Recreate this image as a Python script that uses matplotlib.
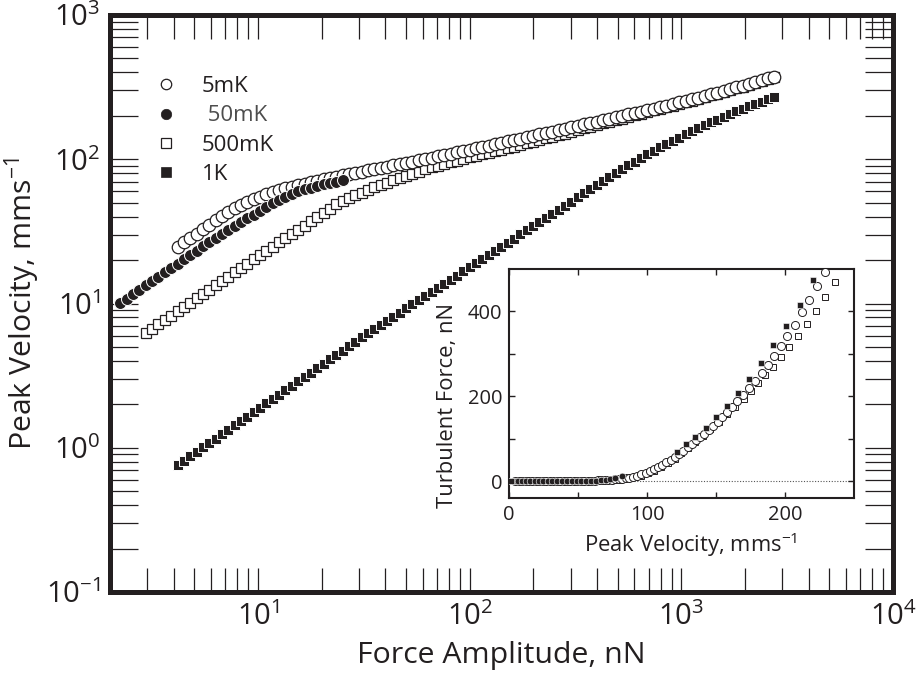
import matplotlib
matplotlib.use('Agg')
import matplotlib.pyplot as plt
from matplotlib.lines import Line2D
from matplotlib.ticker import LogLocator, NullFormatter

plt.rcParams['font.family'] = ['Open Sans', 'DejaVu Sans']
plt.rcParams['mathtext.fontset'] = 'custom'
plt.rcParams['mathtext.rm'] = 'Open Sans'
plt.rcParams['mathtext.it'] = 'Open Sans:italic'
plt.rcParams['mathtext.default'] = 'regular'

# ---------------- main panel data (force sweep, nN) ----------------
force_nN = [2.239, 2.399, 2.570, 2.754, 2.951, 3.162, 3.388, 3.631, 3.890, 4.169,
            4.467, 4.786, 5.129, 5.495, 5.888, 6.310, 6.761, 7.244, 7.762, 8.318,
            8.913, 9.550, 10.23, 10.96, 11.75, 12.59, 13.49, 14.45, 15.49, 16.60,
            17.78, 19.05, 20.42, 21.88, 23.44, 25.12, 26.92, 28.84, 30.90, 33.11,
            35.48, 38.02, 40.74, 43.65, 46.77, 50.12, 53.70, 57.54, 61.66, 66.07,
            70.79, 75.86, 81.28, 87.10, 93.33, 100.0, 107.2, 114.8, 123.0, 131.8,
            141.3, 151.4, 162.2, 173.8, 186.2, 199.5, 213.8, 229.1, 245.5, 263.0,
            281.8, 302.0, 323.6, 346.7, 371.5, 398.1, 426.6, 457.1, 489.8, 524.8,
            562.3, 602.6, 645.7, 691.8, 741.3, 794.3, 851.1, 912.0, 977.2, 1047,
            1122, 1202, 1288, 1380, 1479, 1585, 1698, 1820, 1950, 2089,
            2239, 2399, 2570, 2754]

v_50mK = [10.05, 10.79, 11.56, 12.42, 13.34, 14.29, 15.31, 16.44, 17.62, 18.88,
          20.28, 21.73, 23.23, 24.89, 26.61, 28.51, 30.41, 32.43, 34.44, 36.64,
          38.90, 41.30, 43.95, 46.67, 49.55, 52.48, 55.08, 57.54, 59.84, 61.80,
          63.68, 65.61, 67.30, 68.71, 69.98, 71.29]

v_500mK = [6.252, 6.699, 7.178, 7.691, 8.241, 8.831, 9.462, 10.14, 10.86, 11.64,
           12.47, 13.37, 14.32, 15.35, 16.44, 17.62, 18.88, 20.23, 21.68, 23.17,
           24.77, 26.48, 28.31, 30.27, 32.43, 34.67, 37.07, 39.63, 42.36, 45.39,
           48.64, 51.52, 54.08, 56.36, 58.75, 61.24, 63.83, 66.37, 68.87, 71.61,
           74.13, 76.74, 79.43, 82.22, 85.11, 87.70, 90.16, 92.68, 95.28, 97.95,
           100.5, 103.0, 105.7, 108.4, 110.9, 113.8, 116.4, 119.4, 122.5, 125.6,
           128.8, 132.1, 135.5, 139.3, 142.9, 146.6, 150.7, 154.9, 159.2, 163.7,
           168.3, 173.0, 177.4, 182.0, 186.6, 191.4, 196.8, 201.8, 207.0, 212.3,
           217.8, 223.9, 229.6, 235.5, 241.6, 248.3, 255.3, 262.4, 269.2, 276.7,
           284.4, 292.4, 301.3, 309.7, 319.1, 328.1, 338.1, 347.5, 358.1, 368.9]

v_5mK = [24.7, 26.5, 28.4, 30.5, 32.8, 35.2, 37.8, 40.3, 42.9, 45.6,
         48.0, 50.3, 52.7, 55.0, 57.0, 59.0, 61.2, 63.0, 64.6, 66.4,
         67.9, 69.5, 71.1, 72.6, 74.1, 75.7, 77.3, 78.9, 80.4, 82.0,
         83.8, 85.5, 87.1, 88.9, 90.8, 92.5, 94.4, 96.4, 98.4, 100.5,
         102.6, 104.7, 106.9, 109.1, 111.4, 114.0, 116.4, 119.1, 121.6, 124.4,
         127.1, 130.0, 133.0, 135.8, 139.0, 141.9, 145.2, 148.6, 152.1, 155.6,
         159.1, 162.8, 166.4, 170.2, 174.2, 178.2, 182.4, 186.6, 190.9, 195.4,
         200.0, 204.4, 208.9, 214.0, 219.3, 224.7, 230.1, 235.8, 241.6, 247.5,
         254.1, 260.6, 267.3, 274.8, 282.1, 289.7, 297.8, 306.2, 315.1, 324.3,
         333.4, 343.1, 353.1, 363.1, 373.2]

v_1K = [0.759, 0.814, 0.873, 0.937, 1.005, 1.078, 1.156, 1.240, 1.330, 1.427,
        1.531, 1.643, 1.762, 1.891, 2.028, 2.176, 2.333, 2.503, 2.685, 2.881,
        3.090, 3.315, 3.556, 3.815, 4.093, 4.391, 4.710, 5.053, 5.420, 5.814,
        6.237, 6.662, 7.112, 7.595, 8.110, 8.661, 9.247, 9.874, 10.54, 11.26,
        12.02, 12.84, 13.71, 14.64, 15.63, 16.69, 17.82, 19.03, 20.32, 21.71,
        23.17, 24.75, 26.42, 28.22, 30.13, 32.17, 34.36, 36.69, 39.17, 41.83,
        44.67, 47.70, 50.93, 54.39, 58.08, 62.01, 66.22, 70.69, 75.34, 80.25,
        85.36, 90.69, 96.23, 102.0, 108.0, 114.3, 120.8, 127.5, 134.4, 141.5,
        148.9, 156.4, 164.2, 172.2, 180.3, 188.6, 197.1, 205.8, 214.5, 223.4,
        232.4, 241.5, 250.7, 260.0, 269.2]

force_50mK = force_nN[0:0 + len(v_50mK)]
force_500mK = force_nN[4:4 + len(v_500mK)]
force_5mK = force_nN[9:9 + len(v_5mK)]
force_1K = force_nN[9:9 + len(v_1K)]

labels = ['5mK', ' 50mK', '500mK', '1K']

# ---------------- inset data: turbulent force vs peak velocity ----------------
in_v_5mK = [4.5, 7, 9.5, 12, 14.5, 17, 19.5, 22, 24.5, 27, 29.5, 32, 34.5, 37, 39.5,
            42, 44.5, 47, 49.5, 52, 54.5, 57,
            59.5, 62, 64.5, 67, 69.5, 72, 74.5, 77, 79.5, 82, 84.5, 87,
            90, 93, 96, 99, 102, 105, 108, 111, 114,
            117.4, 120.5, 123.4, 126.3, 129.4, 132.6, 135.5, 138.4, 141.5, 144.7,
            148, 151.2, 154.6, 158, 161.8, 165.5, 169.6, 174, 178.5, 183,
            187.4, 192, 197, 201.7, 207, 212.6, 217.6, 223, 229]
in_f_5mK = [0, 0, 0, 0, 0, 0, 0, 0, 0, 0, 0, 0, 0, 0, 0,
            0, 0, 0, 0, 0, 0, 0,
            0.5, 1, 1.5, 2, 2.5, 3, 3.5, 4, 4.5, 5.2, 6.5, 8,
            10, 12.6, 15.7, 19, 22.8, 27.5, 32, 37.7, 44,
            50.3, 56.6, 64, 72, 80, 88, 96, 103.7, 111.6, 120,
            130.5, 140, 151, 162.7, 174.5, 188, 203.5, 219, 235.8, 254.6,
            274, 296, 317.5, 342.6, 368.6, 398, 427.5, 459, 494]

in_v_50mK = [3.5, 6.5, 9.5, 12.5, 15.5, 18.5, 21.5, 24.5, 28, 31.5, 35, 38.5, 42,
             45.5, 49, 52.5, 56, 59.5, 63, 66.5, 70, 73.5, 77, 81.6]
in_f_50mK = [0, 0, 0, 0, 0, 0, 0, 0, 0, 0, 0, 0, 0,
             0, 0, 0, 0, 0.5, 1, 2, 3, 4, 6, 11]

in_v_500mK = [8, 11, 14, 17, 20, 23, 26, 29, 32, 35, 38, 41, 44, 47, 50, 53, 56, 59, 62,
              65, 68, 71, 74, 77, 80,
              83, 87, 91.5, 96, 100.5, 105, 110, 115, 120, 125,
              130, 135, 140.5, 146, 152, 158, 164, 170.5, 175.5, 180.5,
              185.5, 191, 197, 203, 209.5, 216, 222.5, 229, 236]
in_f_500mK = [0, 0, 0, 0, 0, 0, 0, 0, 0, 0, 0, 0, 0, 0, 0, 0, 0, 0, 0,
              0.5, 1, 1.5, 2, 2.5, 3,
              4, 6, 9, 13, 18, 24, 32, 42, 53, 65,
              78, 91, 106, 122, 140, 157, 175, 194, 212, 231,
              250, 270, 292, 316, 342, 371, 402, 434, 469]

in_v_1K = [1.2, 121.5, 128, 135, 142.5, 150, 157.7, 165.7, 174, 182.4, 191.5, 201, 211, 220.5]
in_f_1K = [0, 68, 88, 105, 126, 151, 177, 207, 241, 279, 320, 366, 416, 473]

# ---------------- figure ----------------
W, H = 920, 679
ink = '#231f20'
fig = plt.figure(figsize=(W / 100, H / 100), dpi=100)
ax = fig.add_axes([110 / W, 1 - 592 / H, 783 / W, 577 / H])
ax.set_xscale('log')
ax.set_yscale('log')
ax.set_xlim(2, 1e4)
ax.set_ylim(0.1, 1e3)

ax.plot(force_500mK, v_500mK, ls='none', marker='s', ms=7.4, mfc='white', mec=ink, mew=0.9, zorder=3)
ax.plot(force_5mK, v_5mK, ls='none', marker='o', ms=9.0, mfc='white', mec=ink, mew=0.9, zorder=4)
ax.plot(force_50mK, v_50mK, ls='none', marker='o', ms=8.6, mfc=ink, mec='white', mew=0.7, zorder=5)
ax.plot(force_1K, v_1K, ls='none', marker='s', ms=6.8, mfc=ink, mec='white', mew=0.7, zorder=6)

for s in ax.spines.values():
    s.set_linewidth(3.6)
    s.set_color(ink)

ax.xaxis.set_major_locator(LogLocator(base=10, numticks=12))
ax.xaxis.set_minor_locator(LogLocator(base=10, subs=range(2, 10), numticks=40))
ax.yaxis.set_major_locator(LogLocator(base=10, numticks=12))
ax.yaxis.set_minor_locator(LogLocator(base=10, subs=range(2, 10), numticks=40))
ax.xaxis.set_minor_formatter(NullFormatter())
ax.yaxis.set_minor_formatter(NullFormatter())
ax.tick_params(axis='x', which='both', direction='in', top=True, length=17, width=0.9,
               color=ink, labelsize=21, pad=7, labelcolor=ink)
ax.tick_params(axis='y', which='both', direction='in', right=True, length=20, width=0.9,
               color=ink, labelsize=21, pad=7, labelcolor=ink)

ax.set_xlabel('Force Amplitude, nN', fontsize=21.8, labelpad=7, color=ink)
ax.set_ylabel('Peak Velocity, mms$^{-1}$', fontsize=21.8, labelpad=3, color=ink)

handles = [
    Line2D([], [], ls='none', marker='o', ms=7.5, mfc='white', mec=ink, mew=0.9),
    Line2D([], [], ls='none', marker='o', ms=7.5, mfc=ink, mec=ink, mew=0.5),
    Line2D([], [], ls='none', marker='s', ms=7, mfc='white', mec=ink, mew=0.9),
    Line2D([], [], ls='none', marker='s', ms=6.5, mfc=ink, mec=ink, mew=0.5),
]
leg = ax.legend(handles, labels, loc='upper left', bbox_to_anchor=(0.0587, 0.894),
                frameon=False, fontsize=16, borderpad=0, borderaxespad=0,
                handlelength=0.9, handletextpad=1.17, labelspacing=0.37, numpoints=1)
for i, t in enumerate(leg.get_texts()):
    t.set_color('#4d4d4d' if i == 1 else ink)

# ---------------- inset ----------------
axi = fig.add_axes([509 / W, 1 - 498 / H, 345 / W, 229 / H])
axi.set_xlim(0, 250)
axi.set_ylim(-40, 500)
axi.axhline(0, color='#555555', lw=0.8, ls=(0, (1, 1.5)), zorder=1)
axi.plot(in_v_500mK, in_f_500mK, ls='none', marker='s', ms=4.8, mfc='white', mec=ink, mew=0.7, zorder=3)
axi.plot(in_v_5mK, in_f_5mK, ls='none', marker='o', ms=5.8, mfc='white', mec=ink, mew=0.7, zorder=4)
axi.plot(in_v_50mK, in_f_50mK, ls='none', marker='o', ms=4.8, mfc=ink, mec='white', mew=0.4, zorder=5)
axi.plot(in_v_1K, in_f_1K, ls='none', marker='s', ms=5.0, mfc=ink, mec='white', mew=0.4, zorder=6)

for s in axi.spines.values():
    s.set_linewidth(1.5)
    s.set_color(ink)
axi.set_xticks([0, 100, 200])
axi.set_xticks([50, 150], minor=True)
axi.set_yticks([0, 200, 400])
axi.set_yticks([100, 300], minor=True)
axi.tick_params(which='both', direction='in', top=True, right=True, length=4, width=1.0,
                color=ink, labelsize=14.5, pad=5, labelcolor=ink)
axi.set_xlabel('Peak Velocity, mms$^{-1}$', fontsize=15.8, color=ink)
axi.set_ylabel('Turbulent Force, nN', fontsize=15.8, color=ink)
axi.xaxis.set_label_coords(0.528, -0.14)
axi.yaxis.set_label_coords(-0.148, 0.406)

fig.savefig('out.png', dpi=100)
